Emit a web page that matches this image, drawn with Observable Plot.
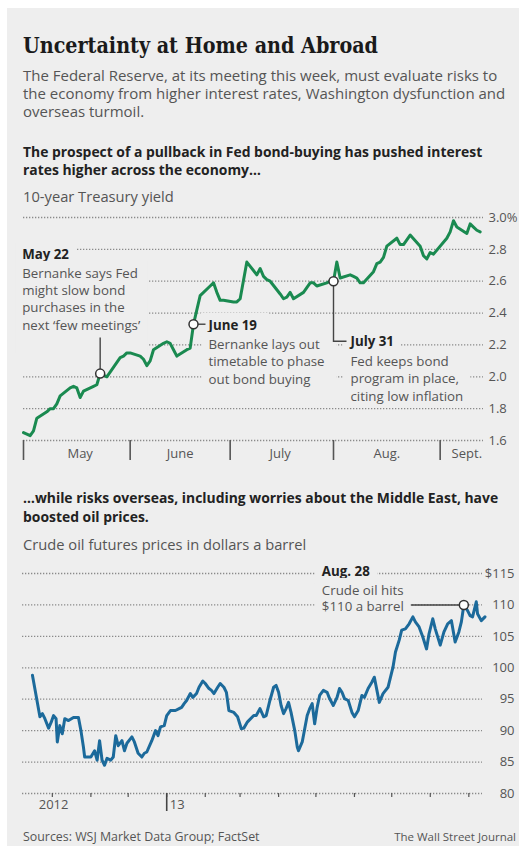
<!DOCTYPE html>
<html>
<head>
<meta charset="utf-8">
<script src="https://cdn.jsdelivr.net/npm/d3@7"></script>
<script src="https://cdn.jsdelivr.net/npm/@observablehq/plot@0.6"></script>
<style>
  html, body { margin: 0; padding: 0; background: #ffffff; }
  #page { position: relative; width: 525px; height: 852px; overflow: hidden; font-family: "Open Sans", Lato, sans-serif; }
  #panel { position: absolute; left: 7px; top: 8px; width: 512px; height: 838px; background: #eeeeee; }
  .t { position: absolute; left: 23px; white-space: nowrap; margin: 0; }
  #title { font-family: "DejaVu Serif", serif; font-weight: bold; font-size: 22px; line-height: 22px; color: #1a1a1a; top: 34px; transform-origin: 0 0; }
  #dek { font-size: 15px; line-height: 18.3px; color: #555; top: 65.5px; }
  .head { font-size: 13.9px; line-height: 18.5px; font-weight: bold; color: #222; }
  .unit { font-size: 14.7px; line-height: 18px; color: #555; }
  #head1 { top: 142.5px; }
  #unit1 { top: 186.5px; }
  #head2 { top: 489px; }
  #unit2 { top: 534.5px; }
  #src { font-size: 12.4px; line-height: 13px; color: #555; top: 829.5px; }
  #wsj { position: absolute; right: 9px; top: 829.5px; font-size: 11.5px; line-height: 13px; color: #555; white-space: nowrap; }
  .chart { position: absolute; left: 0; }
  #yieldChart { top: 205px; }
  #oilChart { top: 560px; }
</style>
</head>
<body>
<div id="page">
  <div id="panel"></div>
  <div id="title" class="t">Uncertainty at Home and Abroad</div>
  <div id="dek" class="t">The Federal Reserve, at its meeting this week, must evaluate risks to<br>the economy from higher interest rates, Washington dysfunction and<br>overseas turmoil.</div>
  <div id="head1" class="t head">The prospect of a pullback in Fed bond-buying has pushed interest<br>rates higher across the economy…</div>
  <div id="unit1" class="t unit">10-year Treasury yield</div>
  <div id="yieldChart" class="chart"></div>
  <div id="head2" class="t head">…while risks overseas, including worries about the Middle East, have<br>boosted oil prices.</div>
  <div id="unit2" class="t unit">Crude oil futures prices in dollars a barrel</div>
  <div id="oilChart" class="chart"></div>
  <div id="src" class="t">Sources: WSJ Market Data Group; FactSet</div>
  <div id="wsj">The Wall Street Journal</div>
</div>
<script>
// ---------------- DATA ----------------
const yieldSeries = [
  ["2013-04-29",1.65],["2013-04-30",1.64],["2013-05-01",1.63],["2013-05-02",1.66],["2013-05-03",1.74],
  ["2013-05-06",1.78],["2013-05-07",1.80],["2013-05-08",1.80],["2013-05-09",1.83],["2013-05-10",1.88],
  ["2013-05-13",1.93],["2013-05-14",1.94],["2013-05-15",1.93],["2013-05-16",1.87],["2013-05-17",1.91],
  ["2013-05-20",1.94],["2013-05-21",1.95],["2013-05-22",2.02],["2013-05-23",2.01],["2013-05-24",2.00],
  ["2013-05-28",2.12],["2013-05-29",2.13],["2013-05-30",2.15],["2013-05-31",2.15],
  ["2013-06-03",2.13],["2013-06-04",2.11],["2013-06-05",2.07],["2013-06-06",2.10],["2013-06-07",2.17],
  ["2013-06-10",2.21],["2013-06-11",2.22],["2013-06-12",2.21],["2013-06-13",2.17],["2013-06-14",2.13],
  ["2013-06-17",2.17],["2013-06-18",2.18],["2013-06-19",2.33],["2013-06-20",2.42],["2013-06-21",2.51],
  ["2013-06-24",2.57],["2013-06-25",2.59],["2013-06-26",2.53],["2013-06-27",2.48],["2013-06-28",2.48],
  ["2013-07-01",2.47],["2013-07-02",2.47],["2013-07-03",2.49],["2013-07-05",2.72],
  ["2013-07-08",2.64],["2013-07-09",2.68],["2013-07-10",2.63],["2013-07-11",2.61],["2013-07-12",2.60],
  ["2013-07-15",2.52],["2013-07-16",2.49],["2013-07-17",2.50],["2013-07-18",2.53],["2013-07-19",2.49],
  ["2013-07-22",2.53],["2013-07-23",2.56],["2013-07-24",2.59],["2013-07-25",2.59],["2013-07-26",2.57],
  ["2013-07-29",2.59],["2013-07-30",2.60],["2013-07-31",2.60],
  ["2013-08-01",2.72],["2013-08-02",2.62],["2013-08-05",2.64],["2013-08-06",2.63],["2013-08-07",2.62],
  ["2013-08-08",2.59],["2013-08-09",2.59],["2013-08-12",2.66],["2013-08-13",2.71],["2013-08-14",2.72],
  ["2013-08-15",2.75],["2013-08-16",2.82],["2013-08-19",2.87],["2013-08-20",2.83],["2013-08-21",2.83],
  ["2013-08-22",2.86],["2013-08-23",2.89],["2013-08-26",2.82],["2013-08-27",2.76],["2013-08-28",2.74],
  ["2013-08-29",2.78],["2013-08-30",2.77],
  ["2013-09-03",2.87],["2013-09-04",2.91],["2013-09-05",2.98],["2013-09-06",2.94],["2013-09-09",2.90],
  ["2013-09-10",2.96],["2013-09-11",2.94],["2013-09-12",2.92],["2013-09-13",2.91]
];
const yieldDomain = ["2013-04-29", "2013-09-14"];
const yieldTicks = [1.6, 1.8, 2.0, 2.2, 2.4, 2.6, 2.8, 3.0];
const yieldMonthBounds = ["2013-04-29", "2013-05-31", "2013-06-30", "2013-07-31", "2013-09-01"];
const yieldMonthLabels = [["2013-05-16","May"],["2013-06-15","June"],["2013-07-15","July"],["2013-08-16","Aug."],["2013-09-09","Sept."]];
const yieldNotes = [
  {date: "2013-05-22", title: "May 22", body: "Bernanke says Fed\nmight slow bond\npurchases in the\nnext \u2018few meetings\u2019"},
  {date: "2013-06-19", title: "June 19", body: "Bernanke lays out\ntimetable to phase\nout bond buying"},
  {date: "2013-07-31", title: "July 31", body: "Fed keeps bond\nprogram in place,\nciting low inflation"}
];

const oilSeries = [
  ["2012-09-15",98.8],["2012-09-21",92.2],["2012-09-23",92.7],["2012-09-25",91.9],["2012-09-28",90.4],
  ["2012-09-30",91.3],["2012-10-02",92.4],["2012-10-04",91.9],["2012-10-05",88.2],["2012-10-07",90.8],
  ["2012-10-09",89.5],["2012-10-11",91.9],["2012-10-14",91.6],["2012-10-18",92.1],["2012-10-22",92.1],
  ["2012-10-24",90.0],["2012-10-26",87.4],["2012-10-27",85.8],["2012-11-01",85.8],["2012-11-04",86.8],
  ["2012-11-06",85.3],["2012-11-08",88.4],["2012-11-10",85.3],["2012-11-12",84.5],["2012-11-14",85.6],
  ["2012-11-17",85.3],["2012-11-19",85.8],["2012-11-21",89.2],["2012-11-23",87.6],["2012-11-26",88.4],
  ["2012-11-28",86.8],["2012-11-30",88.0],["2012-12-04",89.0],["2012-12-06",88.2],["2012-12-09",86.4],
  ["2012-12-12",85.8],["2012-12-14",86.4],["2012-12-16",86.6],["2012-12-20",88.4],["2012-12-23",90.0],
  ["2012-12-25",89.2],["2012-12-27",90.6],["2012-12-30",90.8],["2013-01-01",92.4],["2013-01-04",93.2],
  ["2013-01-08",93.2],["2013-01-11",93.5],["2013-01-13",93.7],["2013-01-15",94.3],["2013-01-17",94.8],
  ["2013-01-20",95.9],["2013-01-22",95.3],["2013-01-25",95.9],["2013-01-27",96.9],["2013-01-30",97.9],
  ["2013-02-01",97.5],["2013-02-04",96.7],["2013-02-06",96.4],["2013-02-08",95.9],["2013-02-11",96.9],
  ["2013-02-13",97.5],["2013-02-16",96.9],["2013-02-18",96.1],["2013-02-20",93.2],["2013-02-24",92.9],
  ["2013-02-27",92.2],["2013-03-02",90.3],["2013-03-04",90.4],["2013-03-07",91.4],["2013-03-12",92.4],
  ["2013-03-14",92.4],["2013-03-17",93.5],["2013-03-20",92.2],["2013-03-22",92.4],["2013-03-25",94.8],
  ["2013-03-28",96.9],["2013-03-30",97.2],["2013-04-01",96.1],["2013-04-03",94.0],["2013-04-05",92.7],
  ["2013-04-07",93.5],["2013-04-09",94.5],["2013-04-11",92.9],["2013-04-14",90.0],["2013-04-16",87.4],
  ["2013-04-17",86.8],["2013-04-20",88.2],["2013-04-22",90.3],["2013-04-24",92.4],["2013-04-26",93.5],
  ["2013-04-28",94.3],["2013-04-30",91.1],["2013-05-02",93.7],["2013-05-04",95.6],["2013-05-07",96.4],
  ["2013-05-10",96.1],["2013-05-12",95.1],["2013-05-15",94.0],["2013-05-18",95.3],["2013-05-20",96.7],
  ["2013-05-22",96.1],["2013-05-24",95.1],["2013-05-27",94.8],["2013-05-30",92.9],["2013-06-01",92.2],
  ["2013-06-04",93.2],["2013-06-07",95.6],["2013-06-09",95.3],["2013-06-12",96.7],["2013-06-15",97.7],
  ["2013-06-17",98.5],["2013-06-21",94.5],["2013-06-24",95.9],["2013-06-28",96.9],["2013-07-02",100.1],
  ["2013-07-04",102.5],["2013-07-07",104.4],["2013-07-09",106.0],["2013-07-12",106.2],["2013-07-15",107.0],
  ["2013-07-18",108.1],["2013-07-20",107.3],["2013-07-23",106.5],["2013-07-26",104.9],["2013-07-29",103.0],
  ["2013-07-31",105.4],["2013-08-03",107.8],["2013-08-05",106.2],["2013-08-09",103.6],["2013-08-12",105.7],
  ["2013-08-15",107.0],["2013-08-18",107.5],["2013-08-21",104.1],["2013-08-24",105.7],["2013-08-26",107.3],
  ["2013-08-28",110.0],["2013-08-31",109.1],["2013-09-02",108.3],["2013-09-04",108.1],["2013-09-07",110.5],
  ["2013-09-08",108.6],["2013-09-11",107.5],["2013-09-14",108.1]
];
const oilDomain = ["2012-09-07", "2013-09-12"];
const oilTicks = [80, 85, 90, 95, 100, 105, 110, 115];
const oilMonthTicks = ["2012-10-01","2012-11-01","2012-12-01","2013-01-01","2013-02-01","2013-03-01",
  "2013-04-01","2013-05-01","2013-06-01","2013-07-01","2013-08-01","2013-09-01"];
const oilYearTick = ["2013-01-01"];
const oilYearLabels = [["2012-10-02","2012"],["2013-01-01","13"]];
const oilNotes = [
  {date: "2013-08-28", title: "Aug. 28", body: "Crude oil hits\n$110 a barrel"}
];

// ---------------- STYLE ----------------
const PANEL = "#eeeeee";
const GREEN = "#1a8a50";
const BLUE = "#1c6a9b";
const GRID = {stroke: "#8a8a8a", strokeWidth: 1.3, strokeDasharray: "1.3,1.7"};
const TXT = "#555";
const FONT = "'Open Sans', Lato, sans-serif";
const NOTE_SIZE = 13.3;
const yieldNoteLayout = [
  {dx: -78, dyTitle: -124, dyBody: -108, leader: "M0,-4.5V-36", pad: [3, 7, 20, 7]},
  {dx: 15, dyTitle: -4, dyBody: 12.5, leader: "M4.5,0H12", pad: [3, 12, 3, 7]},
  {dx: 17, dyTitle: 55, dyBody: 72.5, leader: "M0,4.5V60H13", pad: [3, 7, 3, 7]}
];
const oilNoteLayout = [
  {dx: -142, dyTitle: -38, dyBody: -21.5, leader: "M-4.5,0H-53", pad: [3, 7, 3, 7]}
];

const toDate = s => new Date(s + "T00:00:00Z");
const lookup = (series, s) => { const p = series.find(d => d[0] === s); return p ? p[1] : NaN; };

function noteMarks(notes, series, layout, lineHeight) {
  return notes.flatMap((n, i) => {
    const L = layout[i];
    const common = {x: d => toDate(d.date), y: d => lookup(series, d.date), dx: L.dx,
      textAnchor: "start", lineAnchor: "top", ariaDescription: "note-" + i, fontSize: NOTE_SIZE};
    return [
      Plot.text([n], {...common, text: "title", dy: L.dyTitle, fontWeight: "bold", fill: "#222"}),
      Plot.text([n], {...common, text: "body", dy: L.dyBody, lineHeight, fill: TXT})
    ];
  });
}

function postProcess(svg, layout) {
  const NS = "http://www.w3.org/2000/svg";
  layout.forEach((L, i) => {
    const [pt, pr, pb, pl] = L.pad;
    svg.querySelectorAll(`g[aria-description="note-${i}"] text`).forEach(t => {
      const b = t.getBBox();
      const r = document.createElementNS(NS, "rect");
      r.setAttribute("x", b.x - pl);
      r.setAttribute("y", b.y - pt);
      r.setAttribute("width", b.width + pl + pr);
      r.setAttribute("height", b.height + pt + pb);
      r.setAttribute("fill", PANEL);
      r.setAttribute("stroke", "none");
      const tr = t.getAttribute("transform");
      if (tr) r.setAttribute("transform", tr);
      t.parentNode.insertBefore(r, t);
    });
  });
  const dotG = svg.querySelector('g[aria-description="note-dot"]');
  if (!dotG) return;
  const gTr = dotG.getAttribute("transform");
  const leaders = document.createElementNS(NS, "g");
  if (gTr) leaders.setAttribute("transform", gTr);
  dotG.querySelectorAll("circle, path").forEach((c, i) => {
    let cx = +c.getAttribute("cx"), cy = +c.getAttribute("cy");
    const tr = c.getAttribute("transform");
    if (tr) { const m = tr.match(/translate\(([-\d.e]+)[ ,]+([-\d.e]+)\)/); if (m) { cx += +m[1]; cy += +m[2]; } }
    if (!layout[i]) return;
    const p = document.createElementNS(NS, "path");
    p.setAttribute("d", layout[i].leader);
    p.setAttribute("transform", `translate(${cx},${cy})`);
    p.setAttribute("fill", "none");
    p.setAttribute("stroke", "#444");
    p.setAttribute("stroke-width", 1.4);
    leaders.appendChild(p);
  });
  dotG.parentNode.insertBefore(leaders, dotG);
}

// ---------------- TOP CHART ----------------
const yieldChart = Plot.plot({
  width: 525, height: 265,
  marginLeft: 23, marginRight: 42, marginTop: 12, marginBottom: 30,
  x: {type: "utc", domain: yieldDomain.map(toDate), label: null, axis: null},
  y: {domain: [1.6, 3.0], label: null, axis: null},
  style: {background: "transparent", fontFamily: FONT, fontSize: "13px", overflow: "visible"},
  marks: [
    Plot.ruleY(yieldTicks, GRID),
    Plot.axisX(yieldMonthBounds.map(toDate), {tickSize: 20, tickFormat: () => "", stroke: "#555", strokeWidth: 1.6}),
    Plot.text(yieldMonthLabels, {x: d => toDate(d[0]), text: d => d[1], frameAnchor: "bottom", dy: 17, fill: TXT, fontSize: 13}),
    Plot.text(yieldTicks, {y: d => d, text: d => d === 3 ? "3.0%" : d.toFixed(1), frameAnchor: "right", dx: 5, textAnchor: "start", fill: TXT, fontSize: 13}),
    ...noteMarks(yieldNotes, yieldSeries, yieldNoteLayout, 1.3),
    Plot.line(yieldSeries, {x: d => toDate(d[0]), y: d => d[1], stroke: GREEN, strokeWidth: 3, strokeLinejoin: "round", strokeLinecap: "round"}),
    Plot.dot(yieldNotes, {x: d => toDate(d.date), y: d => lookup(yieldSeries, d.date), r: 4.5, fill: "white", stroke: "#333", strokeWidth: 1.5, ariaDescription: "note-dot"})
  ]
});
document.getElementById("yieldChart").appendChild(yieldChart);
postProcess(yieldChart, yieldNoteLayout);

// ---------------- BOTTOM CHART ----------------
const oilChart = Plot.plot({
  width: 525, height: 270,
  marginLeft: 22, marginRight: 43, marginTop: 13, marginBottom: 37,
  x: {type: "utc", domain: oilDomain.map(toDate), label: null, axis: null},
  y: {domain: [80, 115], label: null, axis: null},
  style: {background: "transparent", fontFamily: FONT, fontSize: "13px", overflow: "visible"},
  marks: [
    Plot.ruleY(oilTicks, GRID),
    Plot.axisX(oilMonthTicks.map(toDate), {tickSize: 4, tickFormat: () => "", stroke: "#555", strokeWidth: 1.2}),
    Plot.axisX(oilYearTick.map(toDate), {tickSize: 18, tickFormat: () => "", stroke: "#444", strokeWidth: 1.6}),
    Plot.text(oilYearLabels.slice(0, 1), {x: d => toDate(d[0]), text: d => d[1], frameAnchor: "bottom", dy: 15, fill: TXT, fontSize: 13}),
    Plot.text(oilYearLabels.slice(1), {x: d => toDate(d[0]), text: d => d[1], frameAnchor: "bottom", dy: 15, dx: 3, textAnchor: "start", fill: TXT, fontSize: 13}),
    Plot.text(oilTicks, {y: d => d, text: d => d === 115 ? "$115" : String(d), frameAnchor: "right", dx: 32, textAnchor: "end", fill: TXT, fontSize: 13}),
    ...noteMarks(oilNotes, oilSeries, oilNoteLayout, 1.22),
    Plot.line(oilSeries, {x: d => toDate(d[0]), y: d => d[1], stroke: BLUE, strokeWidth: 3, strokeLinejoin: "round", strokeLinecap: "round"}),
    Plot.dot(oilNotes, {x: d => toDate(d.date), y: d => lookup(oilSeries, d.date), r: 4.5, fill: "white", stroke: "#333", strokeWidth: 1.5, ariaDescription: "note-dot"})
  ]
});
document.getElementById("oilChart").appendChild(oilChart);
postProcess(oilChart, oilNoteLayout);

// fit title width to the reference measure
const title = document.getElementById("title");
const w = title.getBoundingClientRect().width;
if (w > 0) title.style.transform = `scaleX(${355 / w})`;
</script>
</body>
</html>
